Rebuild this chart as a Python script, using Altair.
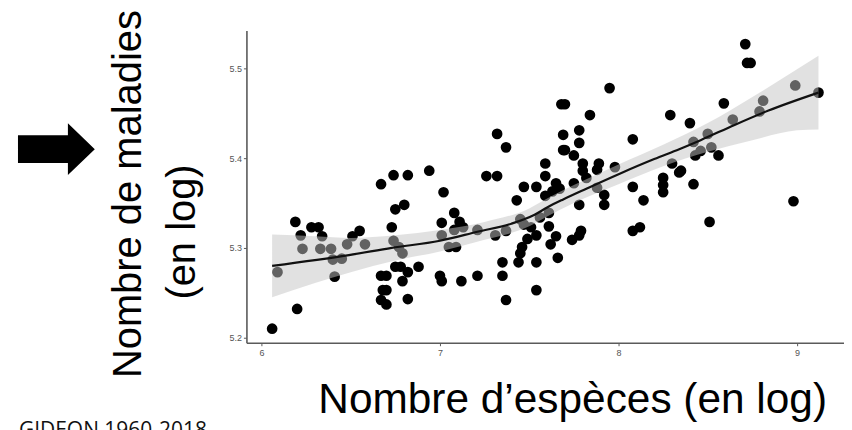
import altair as alt
import pandas as pd

# Scatter points: log number of species (x) vs log number of diseases (y)
species = [6.06, 6.20, 6.09, 6.19, 6.22, 6.28, 6.32, 6.34, 6.23, 6.33, 6.39, 6.40, 6.45, 6.41, 6.48,
           6.51, 6.55, 6.58, 6.67, 6.74, 6.82, 6.94, 6.75, 6.80, 6.73, 6.74, 6.77, 6.79, 6.75, 6.78,
           6.82, 6.88, 6.67, 6.70, 6.79, 6.68, 6.70, 6.67, 6.70, 6.82, 7.02, 7.01, 7.08, 7.11, 7.00,
           7.01, 7.12, 7.08, 7.13, 7.01, 7.05, 7.09, 7.21, 7.31, 7.37, 7.21, 7.35, 7.37, 7.35, 7.44,
           7.54, 7.54, 7.66, 7.45, 7.47, 7.51, 7.56, 7.61, 7.61, 7.54, 7.65, 7.62, 7.49, 7.46, 7.45,
           7.43, 7.47, 7.54, 7.65, 7.59, 7.63, 7.32, 7.37, 7.26, 7.32, 7.59, 7.59, 7.69, 7.69, 7.68,
           7.70, 7.95, 7.84, 7.78, 7.78, 7.70, 7.75, 7.80, 7.80, 7.89, 7.88, 7.98, 7.82, 7.75, 7.67,
           7.88, 7.92, 7.92, 7.78, 8.08, 8.14, 8.25, 8.25, 8.25, 8.30, 8.34, 8.08, 8.12, 7.74, 7.78,
           7.79, 8.08, 8.29, 8.40, 8.42, 8.51, 8.98, 8.71, 8.72, 8.74, 8.99, 9.12, 8.59, 8.81, 8.79,
           8.64, 8.42, 8.50, 8.52, 8.46, 8.43, 8.56, 8.35]
diseases = [5.210, 5.232, 5.273, 5.329, 5.314, 5.323, 5.323, 5.313, 5.299, 5.299, 5.299, 5.287, 5.288, 5.268, 5.304,
            5.313, 5.319, 5.304, 5.371, 5.381, 5.381, 5.386, 5.343, 5.348, 5.323, 5.308, 5.301, 5.294, 5.279, 5.279,
            5.273, 5.279, 5.269, 5.269, 5.263, 5.253, 5.253, 5.242, 5.237, 5.243, 5.362, 5.328, 5.339, 5.329, 5.269,
            5.263, 5.263, 5.320, 5.323, 5.314, 5.301, 5.301, 5.320, 5.314, 5.319, 5.269, 5.269, 5.242, 5.284, 5.284,
            5.284, 5.253, 5.289, 5.332, 5.326, 5.323, 5.334, 5.339, 5.324, 5.314, 5.313, 5.304, 5.310, 5.301, 5.294,
            5.353, 5.368, 5.368, 5.372, 5.358, 5.363, 5.427, 5.412, 5.380, 5.380, 5.394, 5.380, 5.426, 5.409, 5.460,
            5.460, 5.478, 5.448, 5.431, 5.417, 5.409, 5.403, 5.394, 5.386, 5.394, 5.387, 5.390, 5.378, 5.372, 5.366,
            5.367, 5.359, 5.348, 5.348, 5.368, 5.353, 5.378, 5.370, 5.362, 5.394, 5.384, 5.319, 5.323, 5.309, 5.314,
            5.319, 5.421, 5.448, 5.439, 5.371, 5.329, 5.352, 5.527, 5.506, 5.506, 5.481, 5.473, 5.461, 5.464, 5.452,
            5.443, 5.418, 5.427, 5.412, 5.408, 5.403, 5.403, 5.386]

# Smoothed fit (loess)
fit_x = [6.06, 6.49, 6.73, 7.00, 7.21, 7.40, 7.53, 7.60, 7.69, 7.82, 8.01, 8.20, 8.34, 8.46, 8.65, 8.84, 9.12]
fit_y = [5.280, 5.292, 5.300, 5.308, 5.318, 5.327, 5.337, 5.345, 5.354, 5.366, 5.383, 5.399, 5.410, 5.420,
         5.437, 5.453, 5.473]

# Confidence band
band_x = [6.06, 6.30, 6.50, 6.75, 7.00, 7.25, 7.50, 7.60, 7.75, 8.00, 8.25, 8.50, 8.75, 9.00, 9.12]
band_lo = [5.245, 5.261, 5.273, 5.286, 5.296, 5.309, 5.324, 5.335, 5.350, 5.371, 5.391, 5.407, 5.420, 5.431, 5.432]
band_hi = [5.315, 5.313, 5.311, 5.314, 5.320, 5.329, 5.344, 5.355, 5.370, 5.393, 5.415, 5.439, 5.468, 5.499, 5.514]

x_ticks = [6, 7, 8, 9]
y_ticks = [5.2, 5.3, 5.4, 5.5]

pts = pd.DataFrame({"x": species, "y": diseases})
fit = pd.DataFrame({"x": fit_x, "y": fit_y})
band = pd.DataFrame({"x": band_x, "lo": band_lo, "hi": band_hi})
one = pd.DataFrame({"k": [0]})

FONT = "Liberation Sans"
xs = alt.Scale(domain=[5.916, 9.263], nice=False, zero=False)
ys = alt.Scale(domain=[5.1944, 5.5422], nice=False, zero=False)

xaxis = alt.Axis(values=x_ticks, format="d", title=None, grid=False, domainColor="#5a5a5a", domainWidth=1.6,
                 tickColor="#5a5a5a", tickSize=3, labelFontSize=9, labelColor="#555555",
                 labelFont=FONT, labelPadding=3)
yaxis = alt.Axis(values=y_ticks, format=".1f", title=None, grid=False, domainColor="#5a5a5a",
                 domainWidth=1.6, tickColor="#5a5a5a", tickSize=3, labelFontSize=9,
                 labelColor="#555555", labelFont=FONT, labelPadding=2)

points = alt.Chart(pts).mark_circle(size=115, color="#000000", opacity=1).encode(
    x=alt.X("x:Q", scale=xs, axis=xaxis),
    y=alt.Y("y:Q", scale=ys, axis=yaxis),
)

ribbon = alt.Chart(band).mark_area(color="#c4c4c4", opacity=0.5, interpolate="monotone").encode(
    x=alt.X("x:Q", scale=xs),
    y=alt.Y("lo:Q", scale=ys),
    y2="hi:Q",
)

line = alt.Chart(fit).mark_line(color="#111111", strokeWidth=2.2, interpolate="monotone").encode(
    x=alt.X("x:Q", scale=xs),
    y=alt.Y("y:Q", scale=ys),
)

ytitle1 = alt.Chart(one).mark_text(text="Nombre de maladies", angle=270, font=FONT, fontSize=40,
                                   align="center", baseline="alphabetic", color="#000000").encode(
    x=alt.value(-106), y=alt.value(164))
ytitle2 = alt.Chart(one).mark_text(text="(en log)", angle=270, font=FONT, fontSize=40,
                                   align="center", baseline="alphabetic", color="#000000").encode(
    x=alt.value(-52), y=alt.value(202))
xtitle = alt.Chart(one).mark_text(text="Nombre d\u2019esp\u00e8ces (en log)", font=FONT, fontSize=42.5,
                                  align="center", baseline="alphabetic", color="#000000").encode(
    x=alt.value(327), y=alt.value(383))
source = alt.Chart(one).mark_text(text="GIDEON 1960-2018", font="Open Sans", fontSize=21,
                                  align="left", baseline="alphabetic", color="#111111").encode(
    x=alt.value(-228), y=alt.value(408))

arrow_path = "M-1,-0.36L0.3,-0.36L0.3,-0.675L1,0L0.3,0.675L0.3,0.36L-1,0.36Z"
arrow = alt.Chart(one).mark_point(shape=arrow_path, size=5929, filled=True, color="#000000",
                                  opacity=1, strokeWidth=0).encode(
    x=alt.value(-190.5), y=alt.value(119))

chart = alt.layer(points, ribbon, line, ytitle1, ytitle2, xtitle, source, arrow).properties(
    width=599, height=313,
    autosize=alt.AutoSizeParams(type="none"),
    padding={"left": 239, "top": 22, "right": 0, "bottom": 100},
).configure_view(stroke=None)

chart.save("out.html", embed_options={"renderer": "svg", "actions": False})
